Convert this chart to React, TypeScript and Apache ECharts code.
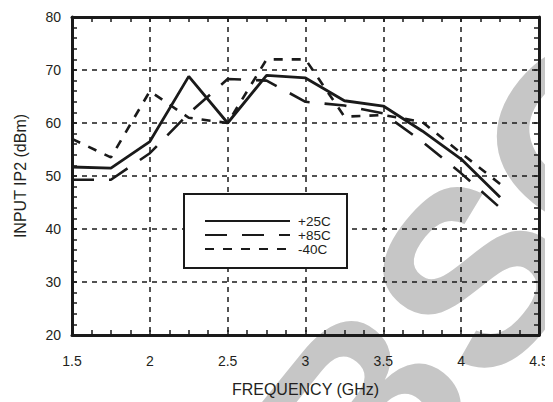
import React, { useEffect, useRef } from "react";
import * as echarts from "echarts";

// Frequency points (GHz)
const FREQ = [1.5, 1.75, 2.0, 2.25, 2.5, 2.75, 3.0, 3.25, 3.5, 3.75, 4.0, 4.25];
// Input IP2 (dBm) per temperature
const IP2_P25C = [51.7, 51.5, 56.5, 68.8, 60.0, 69.0, 68.5, 64.2, 63.2, 58.5, 53.2, 46.0];
const IP2_P85C = [49.3, 49.3, 54.3, 61.8, 68.3, 68.0, 64.0, 63.3, 61.8, 56.5, 50.5, 44.0];
const IP2_M40C = [57.0, 53.5, 66.0, 61.0, 60.0, 72.0, 72.0, 61.2, 61.5, 60.2, 54.3, 48.5];

const SERIES_NAMES = ["+25C", "+85C", "-40C"];

const FONT = '"Liberation Sans", Arial, Helvetica, sans-serif';
const INK = "#1a1a1a";
const TEXT = "#231f20";

const pairs = (ys: number[]) => FREQ.map((x, i) => [x, ys[i]]);

export default function App() {
  const ref = useRef<HTMLDivElement>(null);

  useEffect(() => {
    if (!ref.current) return;
    const chart = echarts.init(ref.current, undefined, { renderer: "svg" });

    const tickStyle = { color: INK, width: 1.5 };
    const axisLine = { show: true, onZero: false, lineStyle: { color: INK, width: 3 } };
    const axisTick = { show: true, inside: true, length: 5, lineStyle: tickStyle };
    const gridDash = { show: true, lineStyle: { color: INK, width: 1.5, type: [5, 5] } };

    const lineSeries = (name: string, data: number[][], type: any, width: number) => ({
      name,
      type: "line",
      data,
      symbol: "none",
      showSymbol: false,
      lineStyle: { color: INK, width, type },
      itemStyle: { color: INK },
      z: 5,
    });

    chart.setOption({
      animation: false,
      backgroundColor: "#ffffff",
      textStyle: { fontFamily: FONT },
      grid: { left: 72, right: 14, top: 17, bottom: 65, containLabel: false },
      xAxis: [
        {
          type: "value",
          min: 1.5,
          max: 4.5,
          interval: 0.5,
          position: "bottom",
          axisLine,
          axisTick,
          minorTick: { show: true, splitNumber: 4, length: 5, lineStyle: tickStyle },
          axisLabel: { color: TEXT, fontSize: 14, margin: 19, fontFamily: FONT },
          splitLine: gridDash,
          name: "FREQUENCY (GHz)",
          nameLocation: "middle",
          nameGap: 46,
          nameTextStyle: { color: TEXT, fontSize: 16, fontFamily: FONT },
        },
        {
          type: "value",
          min: 1.5,
          max: 4.5,
          interval: 0.5,
          position: "top",
          axisLine,
          axisTick,
          minorTick: { show: true, splitNumber: 4, length: 5, lineStyle: tickStyle },
          axisLabel: { show: false },
          splitLine: { show: false },
        },
      ],
      yAxis: [
        {
          type: "value",
          min: 20,
          max: 80,
          interval: 10,
          position: "left",
          axisLine,
          axisTick,
          minorTick: { show: true, splitNumber: 5, length: 5, lineStyle: tickStyle },
          axisLabel: { color: TEXT, fontSize: 14, margin: 11, fontFamily: FONT },
          splitLine: gridDash,
          name: "INPUT IP2 (dBm)",
          nameLocation: "middle",
          nameGap: 44,
          nameTextStyle: { color: TEXT, fontSize: 16, fontFamily: FONT },
        },
        {
          type: "value",
          min: 20,
          max: 80,
          interval: 10,
          position: "right",
          axisLine,
          axisTick,
          minorTick: { show: true, splitNumber: 5, length: 5, lineStyle: tickStyle },
          axisLabel: { show: false },
          splitLine: { show: false },
        },
      ],
      legend: {
        orient: "vertical",
        left: 204,
        top: 214,
        padding: 0,
        itemWidth: 85,
        itemHeight: 12.5,
        itemGap: 0,
        data: SERIES_NAMES,
        itemStyle: { opacity: 0 },
        textStyle: { color: TEXT, fontSize: 13.5, lineHeight: 12.5, fontFamily: FONT, padding: [0, 0, 0, 3] },
        z: 10,
      },
      graphic: [
        {
          // background stamp across the plot
          type: "text",
          x: 186,
          y: 632,
          rotation: (51 * Math.PI) / 180,
          silent: true,
          z: -10,
          style: {
            text: "OBSOLETE",
            font: `bold 250px ${FONT}`,
            fill: "#c6c6c6",
            align: "left",
            verticalAlign: "middle",
          },
        },
        {
          // legend frame
          type: "rect",
          silent: true,
          z: 8,
          shape: { x: 184, y: 194, width: 163, height: 74 },
          style: { fill: "#ffffff", stroke: INK, lineWidth: 2 },
        },
      ],
      series: [
        lineSeries(SERIES_NAMES[0], pairs(IP2_P25C), "solid", 2.8),
        lineSeries(SERIES_NAMES[1], pairs(IP2_P85C), [22, 15], 2.6),
        lineSeries(SERIES_NAMES[2], pairs(IP2_M40C), [9, 9], 2.6),
      ],
    });

    return () => chart.dispose();
  }, []);

  return <div ref={ref} style={{ width: 553, height: 402, marginLeft: -8, marginTop: -8 }} />;
}
